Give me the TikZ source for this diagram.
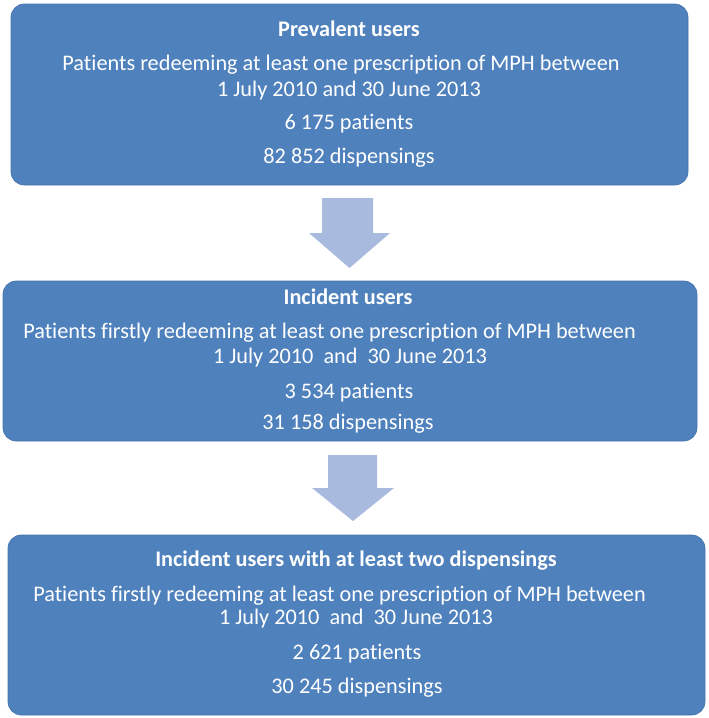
\documentclass[tikz,border=0pt]{standalone}
\usepackage{fontspec}
\setmainfont{Carlito}[Ligatures=NoCommon]
\usepackage{xcolor}
\usetikzlibrary{math}
\definecolor{boxblue}{RGB}{79, 129, 189}
\definecolor{boxedge}{RGB}{70, 116, 174}
\definecolor{arrowblue}{RGB}{168, 186, 221}

\tikzset{
  flowbox/.style={draw=boxedge, line width=0.6pt, fill=boxblue, rounded corners=0.4cm, inner sep=0pt},
  boxtext/.style={text=white, anchor=base, inner sep=0pt, font=\fontsize{19}{22}\selectfont},
  boxtitle/.style={boxtext, font=\fontsize{19}{22}\selectfont\bfseries}
}

\begin{document}
\begin{tikzpicture}[x=0.03cm, y=-0.03cm]
\tikzmath{
\px=0.03;
}
\useasboundingbox (0,0) rectangle (709,718);

 %prevalent
 \node[flowbox, minimum width=677*\px cm, minimum height=181*\px cm] (prev) at (349.5,94.5) {};
 \node[boxtitle] (prevtitle) at (349,36) {Prevalent users};
 \node[boxtext] (prevdef) at (341,70) {Patients redeeming at least one prescription of MPH between};
 \node[boxtext] (prevdate) at (349,96) {1 July 2010 and 30 June 2013};
 \node[boxtext] (prevpat) at (349,129) {6 175 patients};
 \node[boxtext] (prevdisp) at (349,163) {82 852 dispensings};

 %arrow 1
 \fill[arrowblue] (322,198) -- (373,198) -- (373,233) -- (390,233) -- (349.5,268) -- (309,233) -- (322,233) -- cycle;

 %incident
 \node[flowbox, minimum width=694*\px cm, minimum height=160*\px cm] (inc) at (350,361) {};
 \node[boxtitle] (inctitle) at (348,304) {Incident users};
 \node[boxtext] (incdef) at (329.5,338) {Patients firstly redeeming at least one prescription of MPH between};
 \node[boxtext] (incdate) at (350,363) {1 July 2010~ and~ 30 June 2013};
 \node[boxtext] (incpat) at (349,398) {3 534 patients};
 \node[boxtext] (incdisp) at (348,429) {31 158 dispensings};

 %arrow 2
 \fill[arrowblue] (328,455) -- (377,455) -- (377,488) -- (394,488) -- (353,521) -- (312,488) -- (328,488) -- cycle;

 %two dispensings
 \node[flowbox, minimum width=697*\px cm, minimum height=180*\px cm] (two) at (356.5,625) {};
 \node[boxtitle] (twotitle) at (356,566) {Incident users with at least two dispensings};
 \node[boxtext] (twodef) at (339.5,601) {Patients firstly redeeming at least one prescription of MPH between};
 \node[boxtext] (twodate) at (356,624) {1 July 2010~ and~ 30 June 2013};
 \node[boxtext] (twopat) at (357,659) {2 621 patients};
 \node[boxtext] (twodisp) at (357,693) {30 245 dispensings};

\end{tikzpicture}
\end{document}
